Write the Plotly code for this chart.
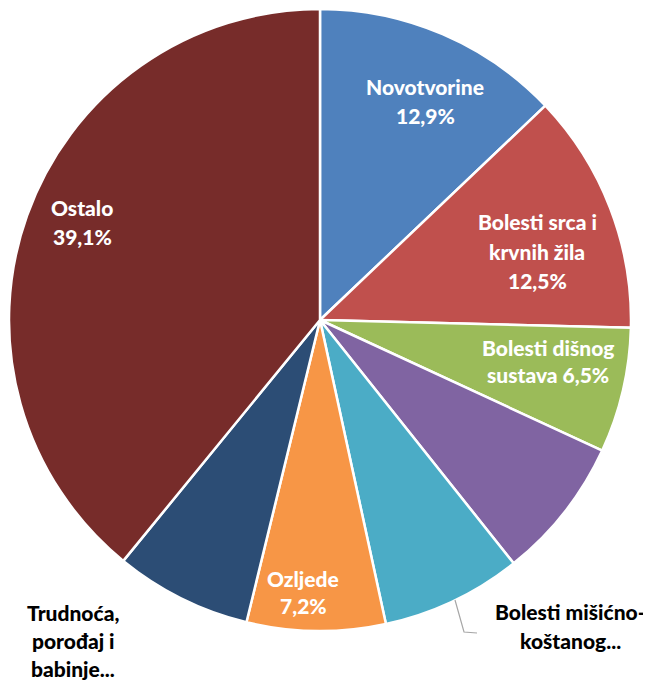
import plotly.graph_objects as go

W, H = 651, 687
OFF = 8  # page body margin offset

categories = ["Novotvorine", "Bolesti srca i krvnih žila", "Bolesti dišnog sustava",
              "Bolesti probavnog sustava", "Bolesti mišićno-koštanog sustava",
              "Ozljede", "Trudnoća, porođaj i babinje", "Ostalo"]
values = [12.9, 12.5, 6.5, 7.4, 7.3, 7.2, 7.1, 39.1]
colors = ["#4F81BD", "#C0504D", "#9BBB59", "#8064A2", "#4BACC6", "#F79646", "#2C4D75", "#772C2A"]

# label text lines (as shown on chart) with page-pixel centre, line spacing, colour
label_lines = [
    (["Novotvorine", "12,9%"], 425, 101, 29, "white"),
    (["Bolesti srca i", "krvnih žila", "12,5%"], 537, 251, 29.5, "white"),
    (["Bolesti dišnog", "sustava 6,5%"], 548, 361, 26.5, "white"),
    (["Ozljede", "7,2%"], 303, 592, 27, "white"),
    (["Ostalo", "39,1%"], 82, 222, 29, "white"),
    (["Bolesti mišićno-", "koštanog..."], 570, 626, 29, "black"),
    (["Trudnoća,", "porođaj i", "babinje..."], 73, 640, 28, "black"),
]

cx, cy, r = 320 - OFF, 320 - OFF, 311


def px(x):
    return (x - OFF) / W


def py(y):
    return 1 - (y - OFF) / H


fig = go.Figure(go.Pie(
    labels=categories, values=values, sort=False, direction="clockwise", rotation=0,
    marker=dict(colors=colors, line=dict(color="white", width=2.5)),
    textinfo="none", hoverinfo="label+value", showlegend=False,
    domain=dict(x=[(cx - r) / W, (cx + r) / W], y=[1 - (cy + r) / H, 1 - (cy - r) / H]),
))

anns = []
for lines, x, y, sp, col in label_lines:
    n = len(lines)
    for i, t in enumerate(lines):
        yy = y + (i - (n - 1) / 2) * sp
        anns.append(dict(x=px(x), y=py(yy), xref="paper", yref="paper", text=t,
                         showarrow=False, xanchor="center", yanchor="middle",
                         font=dict(family="Lato", size=21, color=col, weight=900)))

# leader line for the musculoskeletal label
pts = [(455, 600), (464, 632), (477, 633)]
path = "M " + " L ".join(f"{px(a)},{py(b)}" for a, b in pts)
fig.add_shape(type="path", path=path, xref="paper", yref="paper",
              line=dict(color="#A6A6A6", width=1.2))

fig.update_layout(width=W, height=H, margin=dict(l=0, r=0, t=0, b=0),
                  paper_bgcolor="white", plot_bgcolor="white", annotations=anns)

fig.write_html("out.html")
